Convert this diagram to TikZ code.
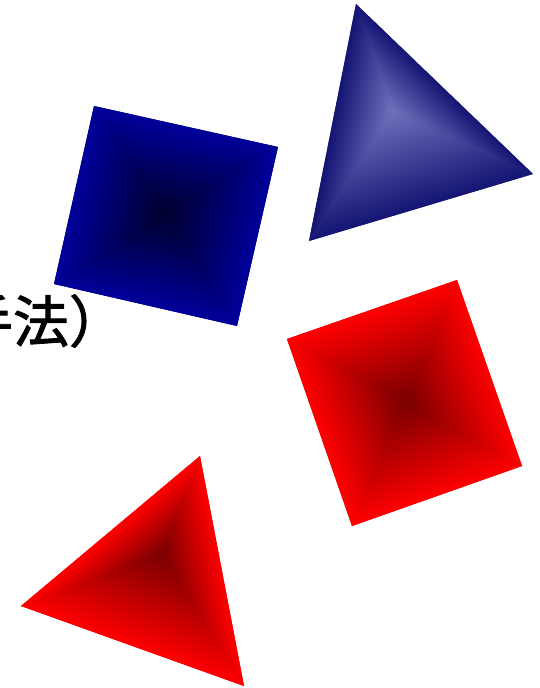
\documentclass[tikz,border=0pt]{standalone}
\usepackage{fontspec}
\newfontfamily\cjk{Noto Sans CJK JP}[FakeBold=1.6]
\usetikzlibrary{calc}
\definecolor{bsqEdge}{RGB}{0,0,155}
\definecolor{bsqCentre}{RGB}{0,0,45}
\definecolor{btriEdge}{RGB}{20,20,115}
\definecolor{btriCentre}{RGB}{112,112,188}
\definecolor{redEdge}{RGB}{255,0,0}
\definecolor{redCentre}{RGB}{120,0,0}
\newcommand\facet[5]{% #1 centre, #2 A, #3 B, #4 centre colour, #5 edge colour
  \path let \p1=(#2), \p2=(#3), \p3=(#1),
    \n1={veclen(\x2-\x1,\y2-\y1)},
    \n2={(\x2-\x1)/\n1*(\y3-\y1)-(\y2-\y1)/\n1*(\x3-\x1)},
    \n3={atan2(\y2-\y1,\x2-\x1)+(\n2<0)*180},
    \n4={abs(\n2)}
  in \pgfextra{\xdef\facetlen{\n1}\xdef\facetht{\n4}\xdef\facetang{\n3}};
  \begin{scope}
    \clip (#1)--(#2)--(#3)--cycle;
    \begin{scope}[transform canvas={shift={(#2)},rotate=\facetang}]
      \shade[bottom color=#5, top color=#4] (-2*\facetlen,0) rectangle (2*\facetlen,\facetht);
    \end{scope}
  \end{scope}%
}
\begin{document}
\begin{tikzpicture}[x=1pt,y=1pt]
\useasboundingbox (0,0) rectangle (539,-688);
% text
\node[anchor=center, inner sep=0pt, font=\cjk\fontsize{56}{56}\selectfont] (txt) at (41,-321) {手法）};
% blue square
\coordinate (bs1) at (94,-106);
\coordinate (bs2) at (278,-147);
\coordinate (bs3) at (237,-326);
\coordinate (bs4) at (54,-284);
\coordinate (bsc) at (163,-213);
\fill[bsqEdge!70!bsqCentre] (bs1)--(bs2)--(bs3)--(bs4)--cycle;
\facet{bsc}{bs1}{bs2}{bsqCentre}{bsqEdge}
\facet{bsc}{bs2}{bs3}{bsqCentre}{bsqEdge}
\facet{bsc}{bs3}{bs4}{bsqCentre}{bsqEdge}
\facet{bsc}{bs4}{bs1}{bsqCentre}{bsqEdge}
% blue triangle
\coordinate (bt1) at (356,-4);
\coordinate (bt2) at (533,-174);
\coordinate (bt3) at (309,-241);
\coordinate (btc) at (392,-110);
\fill[btriEdge!60!btriCentre] (bt1)--(bt2)--(bt3)--cycle;
\facet{btc}{bt1}{bt2}{btriCentre}{btriEdge}
\facet{btc}{bt2}{bt3}{btriCentre}{btriEdge}
\facet{btc}{bt3}{bt1}{btriCentre}{btriEdge}
% red square
\coordinate (rs1) at (287,-339);
\coordinate (rs2) at (457,-280);
\coordinate (rs3) at (522,-466);
\coordinate (rs4) at (352,-526);
\coordinate (rsc) at (406,-401);
\fill[redEdge!70!redCentre] (rs1)--(rs2)--(rs3)--(rs4)--cycle;
\facet{rsc}{rs1}{rs2}{redCentre}{redEdge}
\facet{rsc}{rs2}{rs3}{redCentre}{redEdge}
\facet{rsc}{rs3}{rs4}{redCentre}{redEdge}
\facet{rsc}{rs4}{rs1}{redCentre}{redEdge}
% red triangle
\coordinate (rt1) at (200,-456);
\coordinate (rt2) at (244,-686);
\coordinate (rt3) at (21,-606);
\coordinate (rtc) at (162,-553);
\fill[redEdge!70!redCentre] (rt1)--(rt2)--(rt3)--cycle;
\facet{rtc}{rt1}{rt2}{redCentre}{redEdge}
\facet{rtc}{rt2}{rt3}{redCentre}{redEdge}
\facet{rtc}{rt3}{rt1}{redCentre}{redEdge}
\end{tikzpicture}
\end{document}
